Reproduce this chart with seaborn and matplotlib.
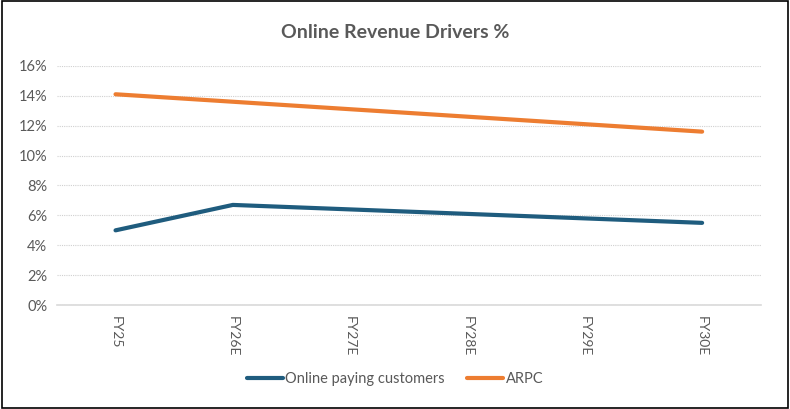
import matplotlib
matplotlib.use("Agg")
import matplotlib.pyplot as plt
import seaborn as sns
import pandas as pd
from matplotlib.ticker import PercentFormatter

categories = ["FY25", "FY26E", "FY27E", "FY28E", "FY29E", "FY30E"]
online_paying = [5.0, 6.7, 6.4, 6.1, 5.8, 5.5]
arpc = [14.1, 13.6, 13.1, 12.6, 12.1, 11.6]
series_names = ["Online paying customers", "ARPC"]
colors = ["#1F5C7E", "#ED7D31"]

df = pd.DataFrame({
    "period": categories * 2,
    "value": online_paying + arpc,
    "series": [series_names[0]] * len(categories) + [series_names[1]] * len(categories),
})

sns.set_theme(style="white")
plt.rcParams["font.family"] = ["Lato", "DejaVu Sans"]

fig = plt.figure(figsize=(7.9, 4.09), dpi=100)
ax = fig.add_axes([0.072, 0.254, 0.891, 0.585])

sns.lineplot(data=df, x="period", y="value", hue="series", palette=colors,
             linewidth=3, ax=ax, sort=False, legend=True)

ax.set_ylim(0, 16)
ax.set_yticks(range(0, 17, 2))
ax.yaxis.set_major_formatter(PercentFormatter(decimals=0))
ax.set_xlim(-0.5, len(categories) - 0.5)
ax.set_xlabel("")
ax.set_ylabel("")
ax.grid(axis="y", color="#D0D0D0", linestyle=(0, (1, 1)), linewidth=0.8)
ax.set_axisbelow(True)
for s in ["top", "right", "left"]:
    ax.spines[s].set_visible(False)
ax.spines["bottom"].set_color("#D9D9D9")
ax.spines["bottom"].set_linewidth(1.2)
ax.tick_params(axis="x", rotation=-90, labelsize=10, colors="#595959", length=0, pad=8)
ax.tick_params(axis="y", labelsize=10.5, colors="#595959", length=0, pad=7)
for lab in ax.get_xticklabels():
    lab.set_verticalalignment("top")

fig.text(0.5, 0.92, "Online Revenue Drivers %", ha="center", va="center",
         fontsize=14, fontweight="bold", color="#595959")

handles, labels = ax.get_legend_handles_labels()
ax.legend(handles, labels, loc="center", bbox_to_anchor=(0.5, 0.073),
          bbox_transform=fig.transFigure, ncol=2, frameon=False,
          fontsize=10.5, labelcolor="#595959", handlelength=2.5,
          handletextpad=0.15, columnspacing=1.5)

border = plt.Rectangle((0.002, 0.003), 0.996, 0.994, transform=fig.transFigure,
                       fill=False, edgecolor="black", linewidth=1.2)
fig.patches.append(border)

fig.savefig("out.png", dpi=100)
